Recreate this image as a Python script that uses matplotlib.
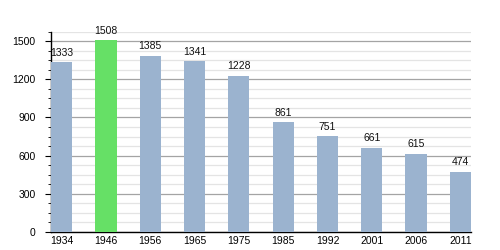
import matplotlib
matplotlib.use("Agg")
import matplotlib.pyplot as plt
from matplotlib.ticker import MultipleLocator

plt.rcParams["font.family"] = ["Liberation Sans", "DejaVu Sans"]

years = ["1934", "1946", "1956", "1965", "1975", "1985", "1992", "2001", "2006", "2011"]
population = [1333, 1508, 1385, 1341, 1228, 861, 751, 661, 615, 474]
highlight = "1946"

blue = "#9bb3cf"
green = "#66e066"

fig = plt.figure(figsize=(5, 2.5), dpi=100)
ax = fig.add_axes([0.102, 0.073, 0.84, 0.80])

w = 0.48
x = list(range(len(years)))
colors = [green if y == highlight else blue for y in years]
ax.bar(x, population, width=w, color=colors, zorder=3)
for xi, v in zip(x, population):
    ax.annotate(str(v), (xi, v), xytext=(0, 3.2), textcoords="offset points",
                ha="center", va="bottom", fontsize=7.5, color="#111111")

ax.set_xlim(-w / 2, len(years) - 1 + w / 2)
ax.set_ylim(0, 1575)
ax.yaxis.set_major_locator(MultipleLocator(300))
ax.yaxis.set_minor_locator(MultipleLocator(75))
ax.set_xticks(x)
ax.set_xticklabels(years)
ax.grid(axis="y", which="major", color="#a4a4a4", linewidth=0.9, zorder=0)
ax.grid(axis="y", which="minor", color="#e4e4e4", linewidth=0.9, zorder=0)
ax.set_axisbelow(True)
for s in ["top", "right"]:
    ax.spines[s].set_visible(False)
ax.spines["left"].set_linewidth(1)
ax.spines["bottom"].set_linewidth(1)
ax.tick_params(axis="y", which="major", length=4, labelsize=7.5, pad=7)
ax.tick_params(axis="y", which="minor", length=2.5)
ax.tick_params(axis="x", length=0, labelsize=7.5, pad=3)

fig.savefig("out.png", dpi=100)
